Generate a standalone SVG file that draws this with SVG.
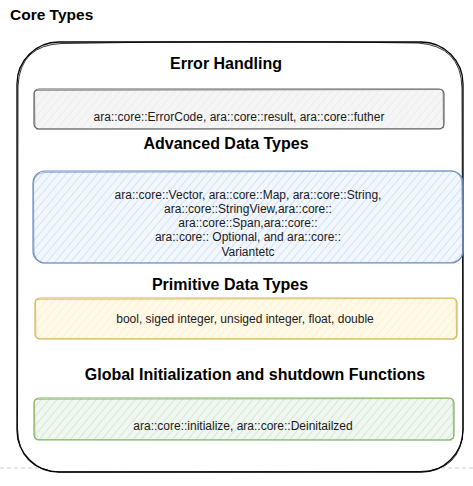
<svg xmlns="http://www.w3.org/2000/svg" width="473" height="486" viewBox="0 0 473 486">
<defs>
<pattern id="hGray" width="6" height="6" patternUnits="userSpaceOnUse" patternTransform="rotate(40)"><line x1="0" y1="0" x2="0" y2="6" stroke="#e6e6e6" stroke-width="1.2"/></pattern>
<pattern id="hBlue" width="6" height="6" patternUnits="userSpaceOnUse" patternTransform="rotate(40)"><line x1="0" y1="0" x2="0" y2="6" stroke="#c3d7f2" stroke-width="1.3"/></pattern>
<pattern id="hYellow" width="6" height="6" patternUnits="userSpaceOnUse" patternTransform="rotate(40)"><line x1="0" y1="0" x2="0" y2="6" stroke="#fbecc4" stroke-width="1.3"/></pattern>
<pattern id="hGreen" width="6" height="6" patternUnits="userSpaceOnUse" patternTransform="rotate(40)"><line x1="0" y1="0" x2="0" y2="6" stroke="#c8e0c6" stroke-width="1.3"/></pattern>
</defs>
<style>
.title{font-family:"Liberation Sans",Arial,sans-serif;font-weight:bold;font-size:16px;fill:#000;text-anchor:middle}
.body{font-family:"Liberation Sans",Arial,sans-serif;font-size:12px;fill:#1a1a1a;text-anchor:middle}
.sk{fill:none;stroke-linejoin:round}
</style>
<rect width="473" height="486" fill="#ffffff"/>
<line x1="0" y1="468" x2="473" y2="468" stroke="#cccccc" stroke-width="1" stroke-dasharray="4 3"/>
<g id="core-types">
<text x="10" y="20" style="font-family:'Liberation Sans',Arial,sans-serif;font-weight:bold;font-size:15.5px">Core Types</text>
<rect x="17" y="42" width="446" height="430" rx="42" ry="42" fill="#ffffff" stroke="#000" stroke-width="1.3"/>
<path class="sk" d="M62 43.5 Q240 40 418 43 Q461 46 462 88 L463 430 Q461 471 420 471.5 L60 472 Q18 470 17.5 428 L18 86 Q20 45 62 43.5" stroke="#000" stroke-width="0.8"/>
</g>
<g id="error-handling">
<text class="title" x="226" y="69">Error Handling</text>
<rect x="34" y="89" width="410" height="40" rx="5" fill="#f5f5f5" stroke="none"/>
<rect x="34" y="89" width="410" height="40" rx="5" fill="url(#hGray)" stroke="#666666" stroke-width="1.2"/>
<path class="sk" d="M36 90.5 L442 89.5 M443 91 L443.5 128 M442 128.5 L36 129 M35 127 L34.5 91" stroke="#666666" stroke-width="0.6"/>
<text class="body" x="239" y="121">ara::core::ErrorCode, ara::core::result, ara::core::futher</text>
</g>
<g id="advanced-data-types">
<text class="title" x="226" y="149">Advanced Data Types</text>
<rect x="33" y="171" width="430" height="92" rx="12" fill="#dae8fc" fill-opacity="0.35" stroke="none"/>
<rect x="33" y="171" width="430" height="92" rx="12" fill="url(#hBlue)" stroke="#6c8ebf" stroke-width="1.2"/>
<path class="sk" d="M45 172.5 L452 171 Q462 173 462 184 L463 252 Q461 262 450 262.5 L44 263 Q34 261 34 250 L33.5 183 Q35 173 45 172.5" stroke="#6c8ebf" stroke-width="0.6"/>
<text class="body" x="248" y="199">ara::core::Vector, ara::core::Map, ara::core::String,</text>
<text class="body" x="248" y="213">ara::core::StringView,ara::core::</text>
<text class="body" x="248" y="227">ara::core::Span,ara::core::</text>
<text class="body" x="248" y="241">ara::core:: Optional, and ara::core::</text>
<text class="body" x="248" y="256">Variantetc</text>
</g>
<g id="primitive-data-types">
<text class="title" x="230" y="290">Primitive Data Types</text>
<rect x="35" y="298" width="422" height="41" rx="5" fill="#fff2cc" fill-opacity="0.45" stroke="none"/>
<rect x="35" y="298" width="422" height="41" rx="5" fill="url(#hYellow)" stroke="#d6b656" stroke-width="1.2"/>
<path class="sk" d="M37 299.5 L455 298.5 M456 300 L456.5 338 M455 339 L37 338.5 M36 337 L35.5 300" stroke="#d6b656" stroke-width="0.6"/>
<text class="body" x="245" y="323">bool, siged integer, unsiged integer, float, double</text>
</g>
<g id="global-init">
<text class="title" x="255" y="380">Global Initialization and shutdown Functions</text>
<rect x="34" y="398" width="420" height="42" rx="5" fill="#d5e8d4" fill-opacity="0.35" stroke="none"/>
<rect x="34" y="398" width="420" height="42" rx="5" fill="url(#hGreen)" stroke="#82b366" stroke-width="1.2"/>
<path class="sk" d="M36 399.5 L452 398.5 M453 400 L453.5 439 M452 440 L36 439.5 M35 438 L34.5 400" stroke="#82b366" stroke-width="0.6"/>
<text class="body" x="243" y="430">ara::core::initialize, ara::core::Deinitailzed</text>
</g>
<g id="connectors"/>
</svg>
